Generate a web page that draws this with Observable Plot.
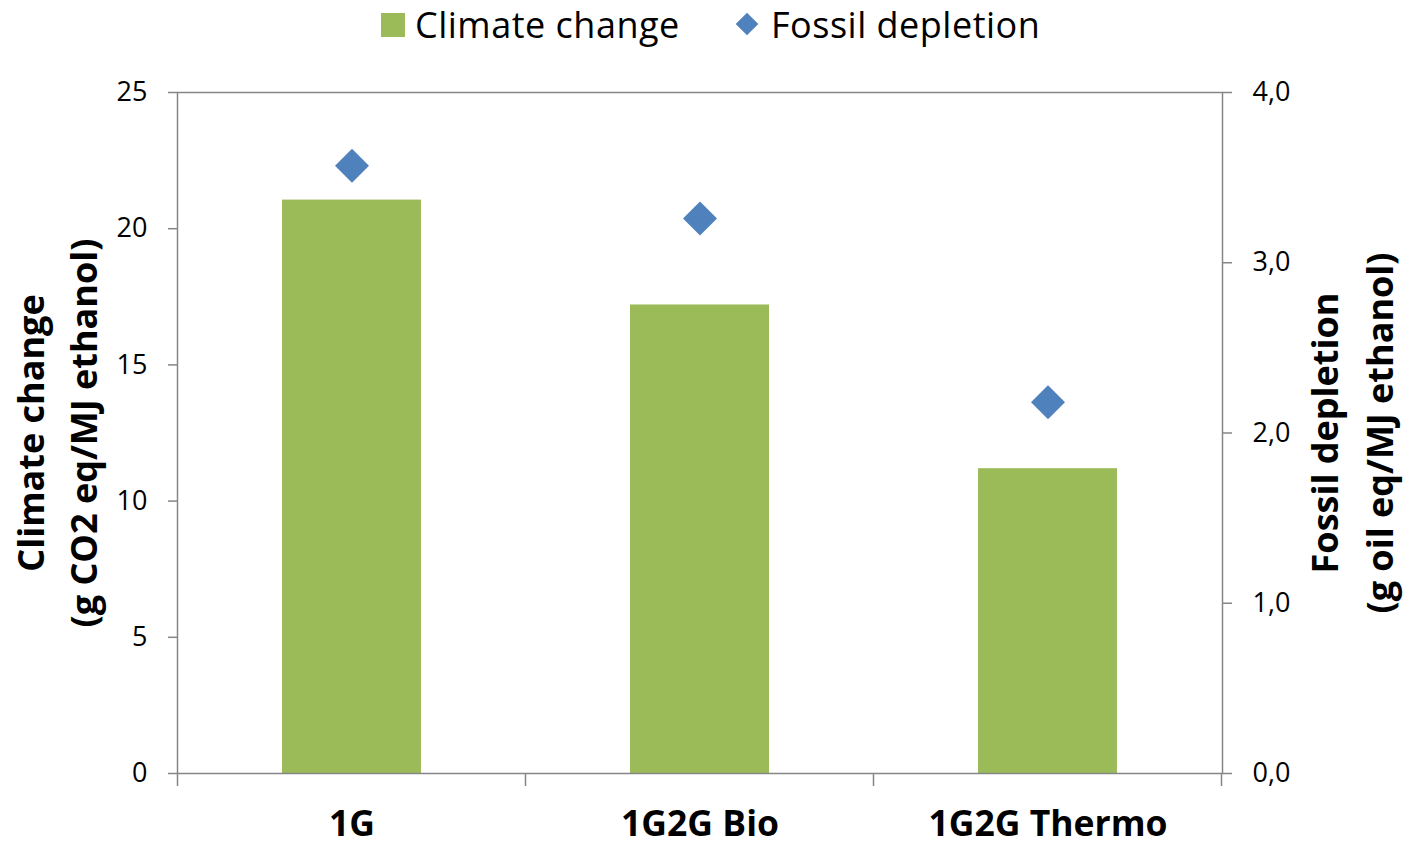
<!DOCTYPE html>
<html><head><meta charset="utf-8">
<script src="https://cdn.jsdelivr.net/npm/d3@7"></script>
<script src="https://cdn.jsdelivr.net/npm/@observablehq/plot@0.6"></script>
<style>
body{margin:0;background:#fff;font-family:'Open Sans',sans-serif;}
#legend{position:relative;height:46px;width:1404px;}
#legend .sw{position:absolute;}
#legend .lt{position:absolute;font-size:36px;line-height:normal;letter-spacing:0.5px;top:0px;color:#000;white-space:nowrap;}
#chart svg{display:block;overflow:visible;}
</style></head><body>
<div id="legend"></div>
<div id="chart"></div>
<script>
const categories = ["1G", "1G2G Bio", "1G2G Thermo"];
const climateChange = [21.05, 17.2, 11.19];
const fossilDepletion = [3.57, 3.26, 2.18];
const seriesNames = ["Climate change", "Fossil depletion"];
const leftTicks = [0, 5, 10, 15, 20, 25];
const rightTicks = [0, 1, 2, 3, 4];
const leftMax = 25, rightMax = 4;
const leftTitle = "Climate change\n(g CO2 eq/MJ ethanol)";
const rightTitle = "Fossil depletion\n(g oil eq/MJ ethanol)";
const green = "#9BBB59", blue = "#4F81BD", axisGray = "#868686";

const ratio = leftMax / rightMax;
const data = categories.map((c, i) => ({cat: c, climate: climateChange[i], fossil: fossilDepletion[i]}));

// legend
const lg = document.getElementById("legend");
lg.innerHTML = `
<div class="sw" style="left:381px;top:13px;width:24px;height:24px;background:${green}"></div>
<div class="lt" style="left:415px">${seriesNames[0]}</div>
<div class="sw" style="left:739px;top:16px;width:16px;height:16px;background:${blue};transform:rotate(45deg)"></div>
<div class="lt" style="left:771px">${seriesNames[1]}</div>`;

const chart = Plot.plot({
  width: 1404,
  height: 800,
  marginTop: 46,
  marginBottom: 73,
  marginLeft: 177,
  marginRight: 182,
  style: {fontFamily: "'Open Sans', sans-serif", fontSize: "27px", color: "#000", background: "#fff", overflow: "visible"},
  x: {type: "band", domain: categories, paddingInner: 0.6, paddingOuter: 0.3},
  y: {domain: [0, leftMax]},
  marks: [
    Plot.barY(data, {x: "cat", y: "climate", fill: green}),
    Plot.frame({stroke: axisGray, strokeWidth: 1.5}),
    Plot.dot(data, {x: "cat", y: d => d.fossil * ratio, symbol: "diamond2", r: 15.3, fill: blue, stroke: "none"}),
    Plot.axisY({anchor: "left", ticks: leftTicks, tickSize: 9, tickPadding: 21, stroke: axisGray, strokeWidth: 1.5, fill: "#000", fontSize: 27, label: null}),
    Plot.axisY({anchor: "right", ticks: rightTicks.map(v => v * ratio), tickFormat: d => d3.format(".1f")(d / ratio).replace(".", ","), tickSize: 9, tickPadding: 21, stroke: axisGray, strokeWidth: 1.5, fill: "#000", fontSize: 27, label: null}),
    Plot.axisX({anchor: "bottom", tickSize: 0, tickPadding: 37, fontSize: 35.5, fontWeight: "bold", fill: "#000", label: null}),
    Plot.text([leftTitle], {text: d => d, frameAnchor: "left", textAnchor: "middle", lineAnchor: "middle", dx: -124, rotate: -90, fontSize: 36, fontWeight: "bold", lineHeight: 1.47, fill: "#000"}),
    Plot.text([rightTitle], {text: d => d, frameAnchor: "right", textAnchor: "middle", lineAnchor: "middle", dx: 125.5, rotate: -90, fontSize: 36, fontWeight: "bold", lineHeight: 1.53, fill: "#000"})
  ]
});
document.getElementById("chart").appendChild(chart);

// category boundary ticks below the baseline
const xs = chart.scale("x"), ys = chart.scale("y");
const y0 = ys.apply(0);
const bounds = categories.map(c => xs.apply(c) - (xs.step - xs.bandwidth) / 2);
bounds.push(bounds[bounds.length - 1] + xs.step);
d3.select(chart).append("g").selectAll("line").data(bounds).join("line")
  .attr("x1", d => d).attr("x2", d => d)
  .attr("y1", y0).attr("y2", y0 + 13)
  .attr("stroke", axisGray).attr("stroke-width", 1.5);
</script>
</body></html>
